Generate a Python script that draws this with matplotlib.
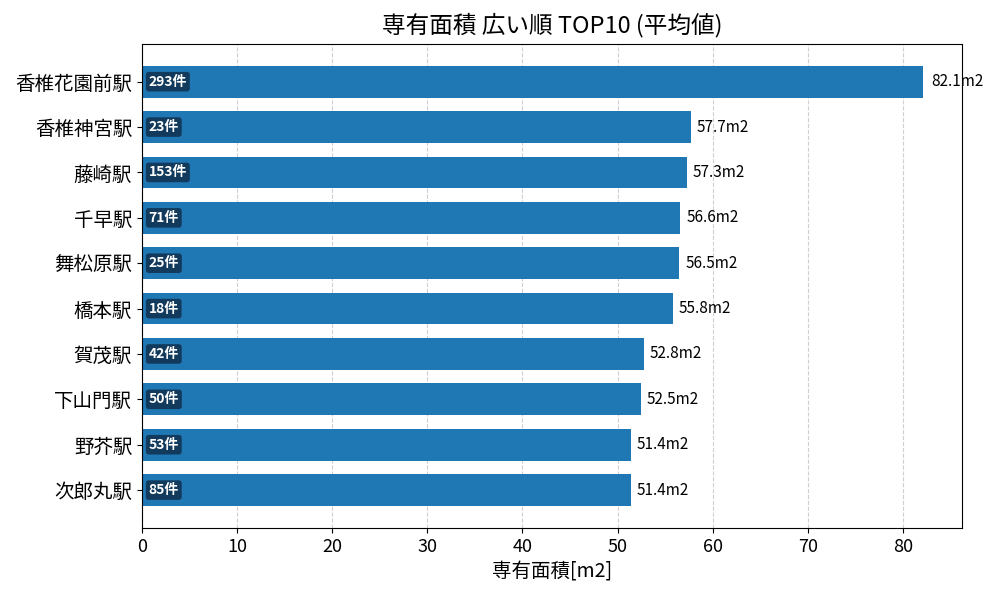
import matplotlib
matplotlib.use("Agg")
import matplotlib.pyplot as plt

plt.rcParams['font.family'] = ['Noto Sans CJK JP', 'DejaVu Sans']

# データ
stations = ['香椎花園前駅', '香椎神宮駅', '藤崎駅', '千早駅', '舞松原駅',
            '橋本駅', '賀茂駅', '下山門駅', '野芥駅', '次郎丸駅']
areas = [82.1, 57.7, 57.3, 56.6, 56.5, 55.8, 52.8, 52.5, 51.4, 51.4]
counts = [293, 23, 153, 71, 25, 18, 42, 50, 53, 85]


def main():
    fig, ax = plt.subplots(figsize=(10, 6), dpi=100)

    y = list(range(len(stations)))[::-1]
    ax.barh(y, areas, height=0.7, color='#1f77b4', zorder=2)
    ax.set_yticks(y)
    ax.set_yticklabels(stations, fontsize=14)
    ax.tick_params(axis='x', labelsize=13)

    # 値ラベル
    for yi, v in zip(y, areas):
        ax.text(v * 1.011, yi, f'{v:.1f}m2', va='center', ha='left', fontsize=11)

    # 件数ラベル
    for yi, c in zip(y, counts):
        ax.text(0.7, yi, f'{c}件', va='center', ha='left', fontsize=10,
                color='white', fontweight='bold', zorder=3,
                bbox=dict(boxstyle='round,pad=0.2', fc='#113a5c', ec='none'))

    ax.set_xlim(0, max(areas) * 1.05)
    ax.grid(axis='x', linestyle='--', alpha=0.6, zorder=0)
    ax.set_axisbelow(True)
    ax.set_title('専有面積 広い順 TOP10 (平均値)', fontsize=17, pad=8)
    ax.set_xlabel('専有面積[m2]', fontsize=14)

    fig.subplots_adjust(left=0.142, right=0.962, top=0.927, bottom=0.12)
    fig.savefig('out.png')


if __name__ == '__main__':
    main()
